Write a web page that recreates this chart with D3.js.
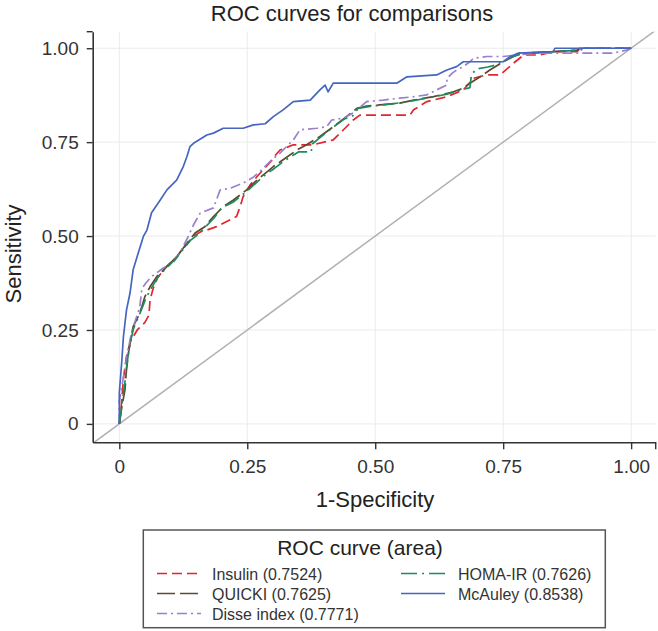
<!DOCTYPE html>
<html>
<head>
<meta charset="utf-8">
<script src="https://cdn.jsdelivr.net/npm/d3@7"></script>
<style>
  html, body { margin: 0; padding: 0; background: #fff; }
  svg { display: block; font-family: "Liberation Sans", Arial, sans-serif; }
</style>
</head>
<body>
<svg id="chart" width="658" height="631"></svg>
<script>
// ---------- data ----------
const chartTitle = "ROC curves for comparisons";
const xTitle = "1-Specificity";
const yTitle = "Sensitivity";
const legendTitle = "ROC curve (area)";
const tickValues = [0, 0.25, 0.5, 0.75, 1];
const tickLabels = ["0", "0.25", "0.50", "0.75", "1.00"];

const seriesNames = ["Insulin (0.7524)", "QUICKI (0.7625)", "Disse index (0.7771)", "HOMA-IR (0.7626)", "McAuley (0.8538)"];

const insulinPts = [[0,0],[0.004,0.05],[0.008,0.12],[0.014,0.18],[0.022,0.22],[0.035,0.25],[0.05,0.27],[0.058,0.29],[0.06,0.33],[0.066,0.36],[0.075,0.39],[0.093,0.42],[0.112,0.445],[0.13,0.475],[0.145,0.5],[0.16,0.512],[0.171,0.516],[0.19,0.525],[0.229,0.552],[0.236,0.578],[0.242,0.605],[0.255,0.635],[0.27,0.66],[0.28,0.675],[0.297,0.7],[0.305,0.715],[0.314,0.729],[0.34,0.743],[0.379,0.743],[0.418,0.756],[0.438,0.783],[0.457,0.809],[0.47,0.822],[0.568,0.822],[0.575,0.836],[0.601,0.858],[0.64,0.871],[0.672,0.889],[0.692,0.92],[0.718,0.929],[0.744,0.929],[0.77,0.96],[0.79,0.982],[0.822,0.982],[0.848,0.991],[0.895,0.991],[0.9,1],[1,1]];

const quickiPts = [[0,0],[0.005,0.046],[0.011,0.09],[0.014,0.144],[0.018,0.189],[0.021,0.216],[0.027,0.259],[0.037,0.286],[0.044,0.312],[0.05,0.339],[0.06,0.365],[0.073,0.392],[0.093,0.419],[0.112,0.445],[0.132,0.481],[0.148,0.508],[0.167,0.525],[0.184,0.552],[0.203,0.578],[0.223,0.596],[0.249,0.623],[0.269,0.649],[0.285,0.667],[0.301,0.685],[0.32,0.703],[0.347,0.729],[0.366,0.743],[0.392,0.765],[0.418,0.791],[0.444,0.818],[0.464,0.84],[0.483,0.846],[0.509,0.849],[0.548,0.854],[0.575,0.862],[0.614,0.871],[0.653,0.884],[0.672,0.894],[0.685,0.907],[0.705,0.924],[0.724,0.942],[0.75,0.964],[0.77,0.978],[0.783,0.987],[0.809,0.987],[0.848,0.991],[0.894,0.995],[0.9,1],[1,1]];

const dissePts = [[0,0],[0,0.06],[0.005,0.1],[0.01,0.14],[0.016,0.19],[0.022,0.23],[0.03,0.27],[0.04,0.31],[0.044,0.36],[0.052,0.375],[0.063,0.392],[0.086,0.415],[0.105,0.428],[0.12,0.46],[0.135,0.5],[0.145,0.53],[0.158,0.561],[0.184,0.575],[0.197,0.623],[0.216,0.627],[0.242,0.641],[0.26,0.655],[0.275,0.672],[0.298,0.703],[0.314,0.721],[0.34,0.756],[0.353,0.783],[0.386,0.787],[0.405,0.791],[0.415,0.809],[0.438,0.814],[0.46,0.83],[0.483,0.858],[0.516,0.862],[0.548,0.867],[0.575,0.871],[0.601,0.876],[0.62,0.889],[0.64,0.902],[0.64,0.92],[0.65,0.933],[0.659,0.942],[0.672,0.951],[0.685,0.964],[0.692,0.973],[0.718,0.978],[0.75,0.978],[0.777,0.982],[0.809,0.987],[0.874,0.987],[0.965,0.987],[0.991,0.995],[1,1]];

const homaPts = [[0,0],[0.004,0.04],[0.01,0.1],[0.014,0.15],[0.018,0.19],[0.022,0.22],[0.028,0.255],[0.036,0.28],[0.045,0.31],[0.052,0.335],[0.062,0.36],[0.075,0.39],[0.094,0.418],[0.112,0.442],[0.128,0.47],[0.14,0.49],[0.15,0.5],[0.165,0.52],[0.185,0.548],[0.2,0.575],[0.222,0.59],[0.25,0.62],[0.27,0.645],[0.286,0.664],[0.303,0.68],[0.322,0.7],[0.35,0.724],[0.375,0.724],[0.377,0.745],[0.392,0.762],[0.418,0.79],[0.44,0.812],[0.455,0.818],[0.466,0.84],[0.49,0.845],[0.52,0.85],[0.55,0.855],[0.58,0.862],[0.62,0.872],[0.64,0.878],[0.655,0.884],[0.685,0.895],[0.688,0.93],[0.698,0.945],[0.72,0.95],[0.735,0.955],[0.75,0.966],[0.77,0.978],[0.79,0.987],[0.85,0.991],[0.9,0.995],[0.91,1],[1,1]];

const mcauleyPts = [[0,0],[0,0.083],[0.005,0.17],[0.008,0.232],[0.014,0.303],[0.021,0.349],[0.027,0.41],[0.037,0.455],[0.047,0.499],[0.054,0.516],[0.063,0.562],[0.08,0.596],[0.093,0.623],[0.112,0.649],[0.125,0.685],[0.132,0.711],[0.138,0.738],[0.145,0.747],[0.171,0.769],[0.184,0.774],[0.203,0.787],[0.242,0.787],[0.262,0.796],[0.285,0.799],[0.301,0.818],[0.32,0.836],[0.34,0.858],[0.373,0.862],[0.392,0.889],[0.402,0.902],[0.408,0.884],[0.418,0.907],[0.542,0.907],[0.562,0.924],[0.62,0.929],[0.64,0.942],[0.659,0.951],[0.672,0.964],[0.75,0.964],[0.764,0.978],[0.78,0.987],[0.848,0.991],[0.851,1],[1,1]];

const seriesData = [insulinPts, quickiPts, dissePts, homaPts, mcauleyPts];
const seriesColors = ["#e0262e", "#5c4a2c", "#9a7fd0", "#1f8a5c", "#4466c0"];
const seriesDash = ["10,5", "18,5", "10,4,2,4", "16,5,2,5", null];

// ---------- layout ----------
const svg = d3.select("#chart");
svg.append("rect").attr("width", 658).attr("height", 631).attr("fill", "#fff");

const x = d3.scaleLinear().domain([-0.052, 1.048]).range([92.7, 655.7]);
const y = d3.scaleLinear().domain([-0.049, 1.044]).range([442.3, 31.7]);
const [x0, x1] = x.range();
const [y0, y1] = y.range();

svg.append("defs").append("clipPath").attr("id", "plotclip")
  .append("rect").attr("x", x0).attr("y", y1).attr("width", x1 - x0).attr("height", y0 - y1);

// grid
const grid = svg.append("g");
grid.selectAll("line.gx").data(tickValues).join("line")
  .attr("class", "gx")
  .attr("x1", d => x(d)).attr("x2", d => x(d)).attr("y1", y0).attr("y2", y1)
  .attr("stroke", "#ebebeb").attr("stroke-width", 1);
grid.selectAll("line.gy").data(tickValues).join("line")
  .attr("class", "gy")
  .attr("x1", x0).attr("x2", x1).attr("y1", d => y(d)).attr("y2", d => y(d))
  .attr("stroke", "#ebebeb").attr("stroke-width", 1);

const plot = svg.append("g").attr("clip-path", "url(#plotclip)");
// diagonal reference
const dom = x.domain();
plot.append("line")
  .attr("x1", x(dom[0])).attr("y1", y(dom[0]))
  .attr("x2", x(dom[1])).attr("y2", y(dom[1]))
  .attr("stroke", "#b0b0b0").attr("stroke-width", 1.5);

const line = d3.line().x(d => x(d[0])).y(d => y(d[1]));
seriesData.forEach((pts, i) => {
  plot.append("path").datum(pts)
    .attr("d", line)
    .attr("fill", "none")
    .attr("stroke", seriesColors[i])
    .attr("stroke-width", 1.7)
    .attr("stroke-dasharray", seriesDash[i])
    .attr("stroke-linejoin", "round");
});

// axes
const axisColor = "#333";
const xAxis = svg.append("g").attr("transform", `translate(0,${y0})`)
  .call(d3.axisBottom(x).tickValues(tickValues).tickFormat((d, i) => tickLabels[i])
    .tickSize(7).tickSizeOuter(0).tickPadding(10));
const yAxis = svg.append("g").attr("transform", `translate(${x0},0)`)
  .call(d3.axisLeft(y).tickValues(tickValues).tickFormat((d, i) => tickLabels[i])
    .tickSize(6).tickSizeOuter(0).tickPadding(8));
[xAxis, yAxis].forEach(a => {
  a.selectAll("path.domain").attr("stroke", axisColor).attr("stroke-width", 1.6);
  a.selectAll(".tick line").attr("stroke", axisColor).attr("stroke-width", 1.4);
  a.selectAll(".tick text").attr("fill", "#333").style("font-size", "19px")
    .style("font-family", "'Liberation Sans', Arial, sans-serif");
});
// end caps
svg.append("line").attr("x1", x1).attr("x2", x1).attr("y1", y0).attr("y2", y0 + 7)
  .attr("stroke", axisColor).attr("stroke-width", 1.4);
svg.append("line").attr("x1", x0).attr("x2", x0 - 6).attr("y1", y1).attr("y2", y1)
  .attr("stroke", axisColor).attr("stroke-width", 1.4);

// titles
svg.append("text").attr("x", 352).attr("y", 21).attr("text-anchor", "middle")
  .attr("fill", "#222").style("font-size", "22px").text(chartTitle);
svg.append("text").attr("x", 375).attr("y", 507).attr("text-anchor", "middle")
  .attr("fill", "#222").style("font-size", "22px").text(xTitle);
svg.append("text").attr("transform", "translate(21,254) rotate(-90)").attr("text-anchor", "middle")
  .attr("fill", "#222").style("font-size", "22px").text(yTitle);

// legend
const lg = svg.append("g");
lg.append("rect").attr("x", 143.3).attr("y", 530).attr("width", 462).attr("height", 97.7)
  .attr("fill", "#fff").attr("stroke", "#555").attr("stroke-width", 1.5);
lg.append("text").attr("x", 360).attr("y", 555).attr("text-anchor", "middle")
  .attr("fill", "#222").style("font-size", "21px").text(legendTitle);
const legendPos = [[157, 0], [157, 1], [157, 2], [401, 0], [401, 1]];
seriesNames.forEach((name, i) => {
  const [lx, row] = legendPos[i];
  const ly = 573.5 + row * 20;
  lg.append("line").attr("x1", lx).attr("x2", lx + 44).attr("y1", ly).attr("y2", ly)
    .attr("stroke", seriesColors[i]).attr("stroke-width", 1.6)
    .attr("stroke-dasharray", seriesDash[i]);
  lg.append("text").attr("x", lx + (i < 3 ? 55 : 57)).attr("y", ly + 6.5)
    .attr("fill", "#333").style("font-size", "16px").text(name);
});
</script>
</body>
</html>
